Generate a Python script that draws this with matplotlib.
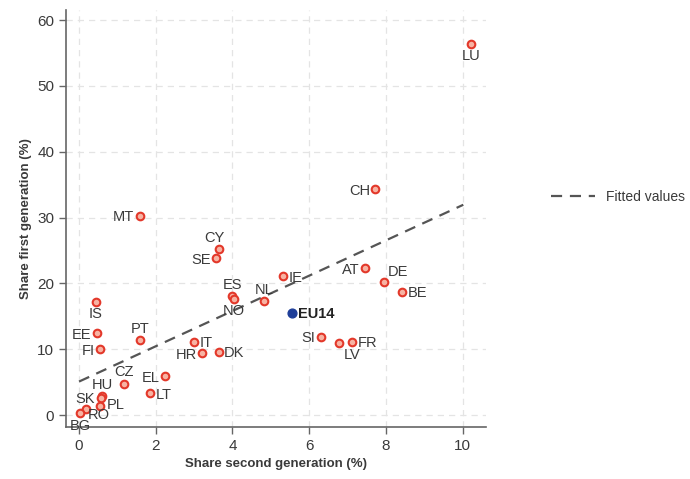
import numpy as np
import matplotlib.pyplot as plt

plt.rcParams['font.family'] = ['Liberation Sans', 'DejaVu Sans']

# country codes with shares of second / first generation (%)
countries = ['LU', 'CH', 'MT', 'CY', 'SE', 'ES', 'NO', 'NL', 'IE', 'AT', 'DE', 'BE',
             'SI', 'LV', 'FR', 'IT', 'HR', 'DK', 'EL', 'LT', 'CZ', 'PT', 'IS', 'EE',
             'FI', 'HU', 'SK', 'PL', 'RO', 'BG']
second_gen = [10.23, 7.73, 1.58, 3.64, 3.58, 3.99, 4.03, 4.83, 5.31, 7.46, 7.94, 8.43,
              6.31, 6.79, 7.13, 3.00, 3.21, 3.64, 2.25, 1.86, 1.16, 1.58, 0.44, 0.46,
              0.55, 0.60, 0.56, 0.54, 0.18, 0.02]
first_gen = [56.4, 34.3, 30.3, 25.2, 23.8, 18.1, 17.7, 17.3, 21.1, 22.3, 20.2, 18.7,
             11.9, 11.0, 11.1, 11.1, 9.4, 9.6, 5.9, 3.3, 4.8, 11.4, 17.2, 12.4,
             10.0, 2.9, 2.6, 1.4, 1.0, 0.3]

eu14_second = 5.56
eu14_first = 15.5

# fitted line: intercept and slope
fit_intercept = 5.1
fit_slope = 2.68
fit_range = [0, 10.02]

# label placement as clock positions
label_pos = {'LU': 6, 'CH': 9, 'MT': 9, 'CY': 11, 'SE': 9, 'ES': 12, 'NO': 6, 'NL': 12,
             'IE': 3, 'AT': 9, 'DE': 2, 'BE': 3, 'SI': 9, 'LV': 5, 'FR': 3, 'IT': 3,
             'HR': 9, 'DK': 3, 'EL': 9, 'LT': 3, 'CZ': 12, 'PT': 12, 'IS': 6, 'EE': 9,
             'FI': 9, 'HU': 12, 'SK': 9, 'PL': 1, 'RO': 4, 'BG': 6}
clock = {3: ((4, -1), 'left', 'center'), 9: ((-4, -1), 'right', 'center'),
         12: ((0, 3), 'center', 'bottom'), 6: ((0, -4), 'center', 'top'),
         11: ((-3, 3), 'center', 'bottom'), 2: ((3, 2), 'left', 'bottom'),
         5: ((3, -4), 'left', 'top'), 4: ((1, -5), 'left', 'center'),
         1: ((5, 0.5), 'left', 'center')}

txt = '#3a3a3a'
fig = plt.figure(figsize=(6.9, 4.79), dpi=100)
ax = fig.add_axes([0.0957, 0.1086, 0.608, 0.870])

ax.scatter(second_gen, first_gen, s=30, facecolor='#f7b3a3', edgecolor='#e3382a',
           linewidth=1.5, zorder=3)
ax.scatter([eu14_second], [eu14_first], s=40, color='#1f3f99', zorder=3)

xf = np.array(fit_range)
ax.plot(xf, fit_intercept + fit_slope * xf, color='#555555', lw=1.6,
        dashes=(5, 3.5), label='Fitted values', zorder=2)

for c, x, y in zip(countries, second_gen, first_gen):
    off, ha, va = clock[label_pos[c]]
    ax.annotate(c, (x, y), xytext=off, textcoords='offset points', ha=ha, va=va,
                fontsize=10.5, color=txt)
ax.annotate('EU14', (eu14_second, eu14_first), xytext=(4, -1), textcoords='offset points',
            ha='left', va='center', fontsize=10.5, fontweight='bold', color='#222222')

ax.set_xlim(-0.34, 10.6)
ax.set_ylim(-1.8, 61.5)
ax.set_xticks(range(0, 11, 2))
ax.set_yticks(range(0, 61, 10))
ax.grid(True, color='#e4e4e4', linestyle=(0, (5, 4)), linewidth=0.9)
ax.set_axisbelow(True)
for s in ['top', 'right']:
    ax.spines[s].set_visible(False)
for s in ['left', 'bottom']:
    ax.spines[s].set_color('#666666')
    ax.spines[s].set_linewidth(1.2)
ax.tick_params(length=5, width=1, color='#666666', labelcolor=txt, labelsize=11)
ax.set_xlabel('Share second generation (%)', fontsize=9.5, fontweight='bold', color=txt)
ax.set_ylabel('Share first generation (%)', fontsize=9.5, fontweight='bold', color=txt)

fig.legend(loc='center left', bbox_to_anchor=(0.78, 1 - 197 / 479), frameon=False,
           fontsize=10, labelcolor=txt, handlelength=3.2)

fig.savefig('out.png', dpi=100)
